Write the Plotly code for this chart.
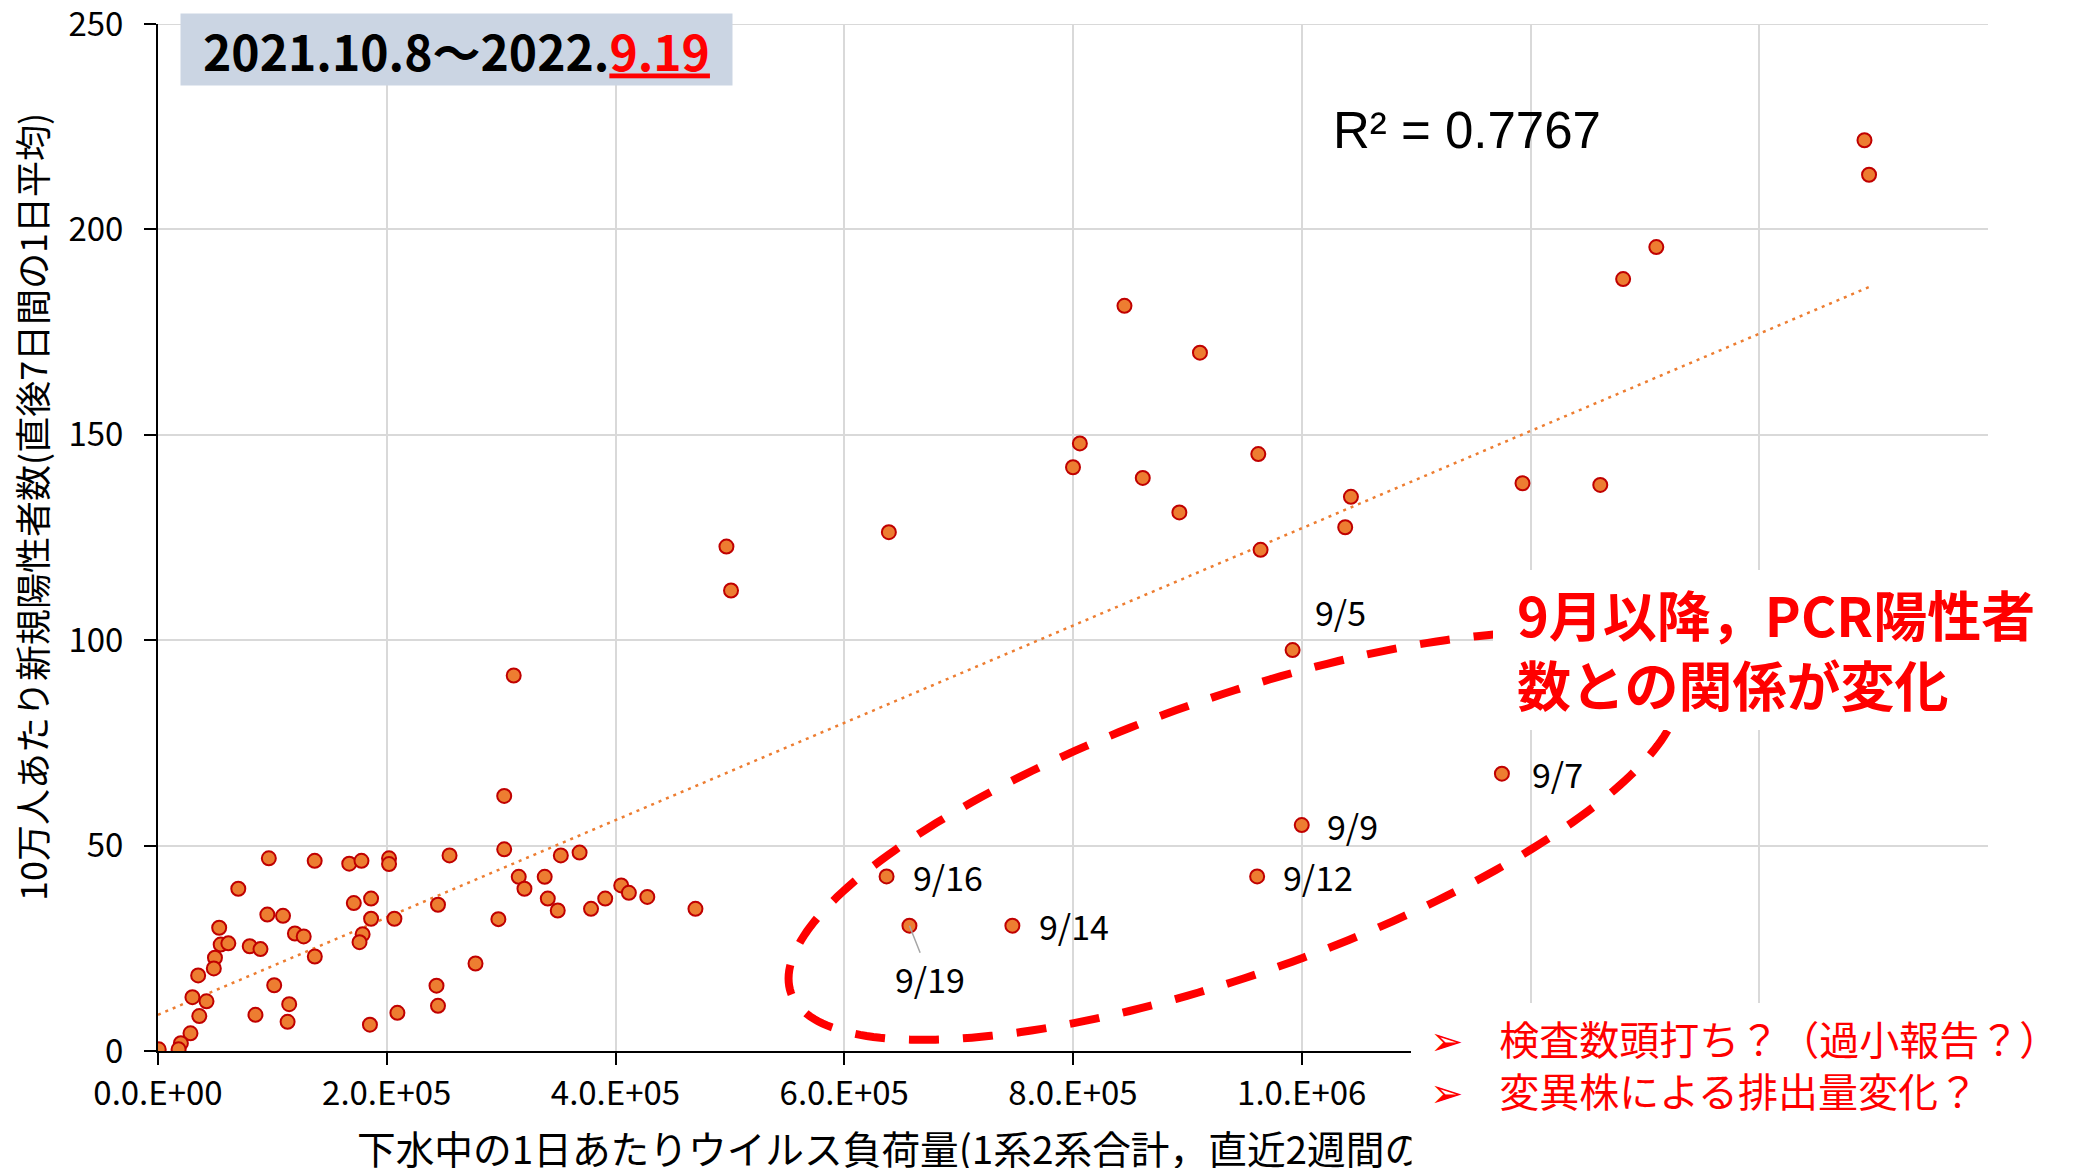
import numpy as np
import plotly.graph_objects as go

# Daily viral load in sewage (system 1 + system 2, 2-week mean) and
# new positive cases per 100k (1-day mean of the following 7 days)
load = [
    1.492e6, 1.496e6, 1.310e6, 1.281e6, 0.845e6, 0.911e6, 0.806e6, 0.800e6,
    0.861e6, 1.193e6, 1.261e6, 0.893e6, 0.962e6, 1.043e6, 1.038e6, 0.964e6,
    0.639e6, 0.497e6, 0.501e6, 0.311e6,
    302.7e3, 302.7e3, 96.9e3, 137.0e3, 167.2e3, 177.9e3, 202.0e3, 202.0e3,
    254.9e3, 352.2e3, 368.6e3, 315.4e3, 320.4e3, 338.1e3, 340.8e3, 349.5e3,
    378.6e3, 391.0e3, 405.0e3, 411.7e3, 427.8e3, 469.9e3, 70.2e3, 53.5e3,
    54.8e3, 61.5e3, 49.8e3, 48.8e3, 35.1e3, 30.1e3, 42.4e3, 36.1e3,
    28.4e3, 20.0e3, 18.0e3, 0.6e3, 95.6e3, 109.3e3, 119.7e3, 127.4e3,
    80.2e3, 89.6e3, 137.1e3, 101.6e3, 114.7e3, 85.2e3, 113.3e3, 171.2e3,
    186.3e3, 186.3e3, 206.7e3, 178.9e3, 176.2e3, 185.3e3, 209.3e3, 244.8e3,
    243.5e3, 244.8e3, 277.6e3, 297.6e3,
]
cases = [
    221.7, 213.3, 195.7, 187.9, 181.4, 170.0, 147.9, 142.1,
    139.5, 138.2, 137.8, 131.1, 145.3, 134.9, 127.5, 122.0,
    126.3, 122.8, 112.1, 91.4,
    62.1, 49.1, 46.9, 46.3, 45.6, 46.3, 46.9, 45.5,
    47.6, 47.6, 48.3, 42.4, 39.5, 42.4, 37.1, 34.2,
    34.6, 37.1, 40.3, 38.5, 37.5, 34.6, 39.5, 30.0,
    25.9, 26.2, 22.7, 20.1, 18.4, 13.1, 12.1, 8.5,
    4.3, 1.9, 0.4, 0.4, 33.2, 32.9, 28.6, 27.9,
    25.5, 24.8, 23.0, 16.0, 11.4, 8.8, 7.1, 36.0,
    37.1, 32.2, 32.2, 28.4, 26.5, 6.4, 9.3, 35.6,
    15.9, 11.0, 21.3, 32.1,
]

# September 2022 observations, labelled by date
sep_dates = ["9/5", "9/7", "9/9", "9/12", "9/14", "9/16", "9/19"]
sep_load = [0.992e6, 1.175e6, 1.000e6, 0.961e6, 0.747e6, 0.637e6, 0.657e6]
sep_cases = [97.6, 67.5, 55.0, 42.5, 30.5, 42.5, 30.5]

# gridlines continue past 1.0E+06, where the callout panel sits over the labels
x_ticks = [0, 2e5, 4e5, 6e5, 8e5, 1.0e6, 1.2e6, 1.4e6, 1.6e6]
x_ticklabels = ["0.0.E+00", "2.0.E+05", "4.0.E+05", "6.0.E+05", "8.0.E+05",
                "1.0.E+06", "", "", ""]
y_ticks = [0, 50, 100, 150, 200, 250]

period_text = "2021.10.8～2022."
period_end = "9.19"
r2_text = "R² = 0.7767"
x_title = "下水中の1日あたりウイルス負荷量(1系2系合計，直近2週間の"
y_title = "10万人あたり新規陽性者数(直後7日間の1日平均)"
headline = ["9月以降，PCR陽性者", "数との関係が変化"]
bullets = ["検査数頭打ち？（過小報告？）", "変異株による排出量変化？"]

# ---- page geometry (pixels) ----
W, H = 2093, 1168
ML, MR, MT, MB = 158, 105, 24, 117
PW, PH = W - ML - MR, H - MT - MB


def px(x):
    return (x - ML) / PW


def py(y):
    return (H - MB - y) / PH


JP = "Noto Sans CJK JP, DejaVu Sans, sans-serif"
MARKER_FILL = "#ED7D31"
MARKER_EDGE = "#C00000"
RED = "#FF0000"
GRID = "#D9D9D9"

all_x = np.array(load + sep_load)
all_y = np.array(cases + sep_cases)
slope, intercept = np.polyfit(all_x, all_y, 1)
trend_x = np.array([0.0, all_x.max()])
trend_y = slope * trend_x + intercept

fig = go.Figure()
fig.add_trace(go.Scatter(
    x=trend_x, y=trend_y, mode="lines",
    line=dict(color=MARKER_FILL, width=2.5, dash="3px,5px"),
    hoverinfo="skip",
))
fig.add_trace(go.Scatter(
    x=all_x, y=all_y, mode="markers",
    marker=dict(size=14, color=MARKER_FILL, line=dict(color=MARKER_EDGE, width=2)),
))

# ---- dashed ellipse around the September points (drawn in pixel space) ----
cx, cy, a, b, ang = 1234.0, 836.0, 470.0, 138.0, np.deg2rad(19.5)
t = np.linspace(0, 2 * np.pi, 241)
ex = cx + a * np.cos(t) * np.cos(ang) + b * np.sin(t) * np.sin(ang)
ey = cy - a * np.cos(t) * np.sin(ang) + b * np.sin(t) * np.cos(ang)
path = "M " + " L ".join(f"{px(u):.5f},{py(v):.5f}" for u, v in zip(ex, ey)) + " Z"

shapes = [
    # top gridline at the end of the y range
    dict(type="line", xref="x", yref="y", layer="below",
         x0=0, x1=1.6e6, y0=250, y1=250, line=dict(color=GRID, width=2)),
    dict(type="path", path=path, xref="paper", yref="paper", layer="above",
         line=dict(color=RED, width=8, dash="30px,24px")),
    # white panels behind the callout texts
    dict(type="rect", xref="paper", yref="paper", layer="above",
         x0=px(1493), x1=px(2100), y0=py(570), y1=py(730),
         fillcolor="white", line=dict(width=0)),
    dict(type="rect", xref="paper", yref="paper", layer="above",
         x0=px(1411), x1=px(2100), y0=py(1003), y1=py(1175),
         fillcolor="white", line=dict(width=0)),
]

arrow = "<span style='font-size:40px'>➢</span>"
annotations = [
    # x-axis title
    dict(text=x_title, xref="paper", yref="paper", x=px(355), y=py(1147),
         xanchor="left", yanchor="middle", showarrow=False,
         font=dict(family=JP, size=38.7, color="black")),
    # y-axis title
    dict(text=y_title, xref="paper", yref="paper", x=px(31), y=py(507),
         xanchor="center", yanchor="middle", showarrow=False, textangle=-90,
         font=dict(family=JP, size=36, color="black")),
    # period box
    dict(text=f"<b>{period_text}<span style='color:{RED}'><u>{period_end}</u></span></b>",
         xref="paper", yref="paper", x=px(180), y=py(13),
         xanchor="left", yanchor="top", showarrow=False,
         width=551, height=71, borderpad=0, bgcolor="#CBD5E3",
         align="center", valign="middle",
         font=dict(family=JP, size=48, color="black")),
    # R squared
    dict(text=r2_text, xref="paper", yref="paper", x=px(1331), y=py(131),
         xanchor="left", yanchor="middle", showarrow=False,
         font=dict(family="Liberation Sans, Arial, sans-serif", size=51, color="black")),
    # headline callout
    dict(text="<br>".join(f"<b>{s}</b>" for s in headline),
         xref="paper", yref="paper", x=px(1515), y=py(648),
         xanchor="left", yanchor="middle", showarrow=False, align="left",
         font=dict(family=JP, size=54, color=RED)),
    # bullet callout (its white box also ends the x title)
    dict(text="<br>".join(
        "&nbsp;&nbsp;" + arrow + "&nbsp;&nbsp;&nbsp;&nbsp;" + s for s in bullets),
         xref="paper", yref="paper", x=px(1411), y=py(1008),
         xanchor="left", yanchor="top", showarrow=False,
         width=680, height=162, borderpad=0, bgcolor="white",
         align="left", valign="top",
         font=dict(family=JP, size=40, color=RED)),
]

# date labels for the September points
label_offsets = {
    "9/5": (20, 39), "9/7": (28, 0), "9/9": (23, 0), "9/12": (24, 0),
    "9/14": (25, 0), "9/16": (24, 0),
}
for d, xv, yv in zip(sep_dates, sep_load, sep_cases):
    if d in label_offsets:
        dx, dy = label_offsets[d]
        annotations.append(dict(
            text=d, x=xv, y=yv, xref="x", yref="y", showarrow=False,
            xanchor="left", yanchor="middle", xshift=dx, yshift=dy,
            font=dict(family=JP, size=34, color="black")))
    else:
        annotations.append(dict(
            text=d, x=xv, y=yv, xref="x", yref="y", showarrow=True,
            ax=21, ay=53, arrowhead=0, arrowwidth=1.5, arrowcolor="#A6A6A6",
            standoff=0, font=dict(family=JP, size=34, color="black")))

axis_common = dict(
    showline=True, linecolor="black", linewidth=2,
    ticks="outside", ticklen=12, tickwidth=2, tickcolor="black",
    showgrid=True, gridcolor=GRID, gridwidth=2, zeroline=False,
    tickfont=dict(family=JP, size=33, color="black"),
    ticklabeloverflow="allow", automargin=False,
)

fig.update_layout(
    width=W, height=H,
    margin=dict(l=ML, r=MR, t=MT, b=MB, autoexpand=False),
    paper_bgcolor="white", plot_bgcolor="white",
    showlegend=False,
    xaxis=dict(range=[0, 1.6e6], tickmode="array", tickvals=x_ticks,
               ticktext=x_ticklabels, ticklabelstandoff=0, **axis_common),
    yaxis=dict(range=[0, 250], tickmode="array", tickvals=y_ticks,
               ticklabelstandoff=14, **axis_common),
    shapes=shapes,
    annotations=annotations,
)

fig.write_html("out.html")
